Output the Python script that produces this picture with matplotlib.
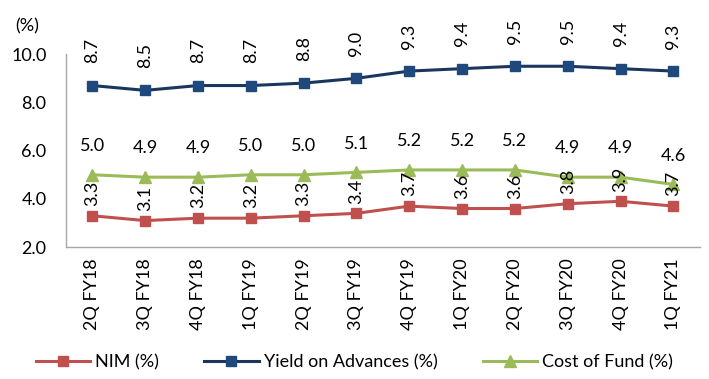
import matplotlib.pyplot as plt

quarters = ["2Q FY18", "3Q FY18", "4Q FY18", "1Q FY19", "2Q FY19", "3Q FY19",
            "4Q FY19", "1Q FY20", "2Q FY20", "3Q FY20", "4Q FY20", "1Q FY21"]
nim = [3.3, 3.1, 3.2, 3.2, 3.3, 3.4, 3.7, 3.6, 3.6, 3.8, 3.9, 3.7]
yield_adv = [8.7, 8.5, 8.7, 8.7, 8.8, 9.0, 9.3, 9.4, 9.5, 9.5, 9.4, 9.3]
cost_fund = [5.0, 4.9, 4.9, 5.0, 5.0, 5.1, 5.2, 5.2, 5.2, 4.9, 4.9, 4.6]

plt.rcParams["font.family"] = ["Lato", "DejaVu Sans"]
FS = 13

fig = plt.figure(figsize=(7.09, 3.79), dpi=100)
ax = fig.add_axes([0.093, 0.348, 0.894, 0.509])
x = range(len(quarters))

ax.plot(x, nim, color="#C0504D", lw=2.2, marker="s", ms=6.5, label="NIM (%)")
ax.plot(x, yield_adv, color="#1B365D", lw=2.2, marker="s", ms=6.5,
        mfc="#1F497D", mec="#1F497D", label="Yield on Advances (%)")
ax.plot(x, cost_fund, color="#9BBB59", lw=2.2, marker="^", ms=8, label="Cost of Fund (%)")

# value labels: rotated for yield and NIM, horizontal for cost of fund
for i in x:
    ax.annotate(f"{yield_adv[i]:.1f}", (i, yield_adv[i]), xytext=(0, 16),
                textcoords="offset points", rotation=90, ha="center", va="bottom", fontsize=FS)
    ax.annotate(f"{cost_fund[i]:.1f}", (i, cost_fund[i]), xytext=(0, 15),
                textcoords="offset points", ha="center", va="bottom", fontsize=FS)
    ax.annotate(f"{nim[i]:.1f}", (i, nim[i]), xytext=(0, 7),
                textcoords="offset points", rotation=90, ha="center", va="bottom", fontsize=FS)

ax.set_xlim(-0.5, len(quarters) - 0.5)
ax.set_ylim(2, 10)
ax.set_yticks([2, 4, 6, 8, 10])
ax.set_yticklabels([f"{v:.1f}" for v in [2, 4, 6, 8, 10]])
ax.set_xticks(list(x))
ax.set_xticklabels(quarters, rotation=90)
ax.tick_params(axis="both", length=0, labelsize=FS)
ax.tick_params(axis="y", pad=14)
ax.tick_params(axis="x", pad=8)
for side in ["top", "right"]:
    ax.spines[side].set_visible(False)
for side in ["left", "bottom"]:
    ax.spines[side].set_color("#A6A6A6")
    ax.spines[side].set_linewidth(1)

fig.text(0.021, 0.93, "(%)", fontsize=FS, va="center")
fig.legend(loc="center", bbox_to_anchor=(0.5, 0.045), ncol=3, frameon=False,
           fontsize=FS, handlelength=3, columnspacing=2.5, handletextpad=0.3)

fig.savefig("out.png")
